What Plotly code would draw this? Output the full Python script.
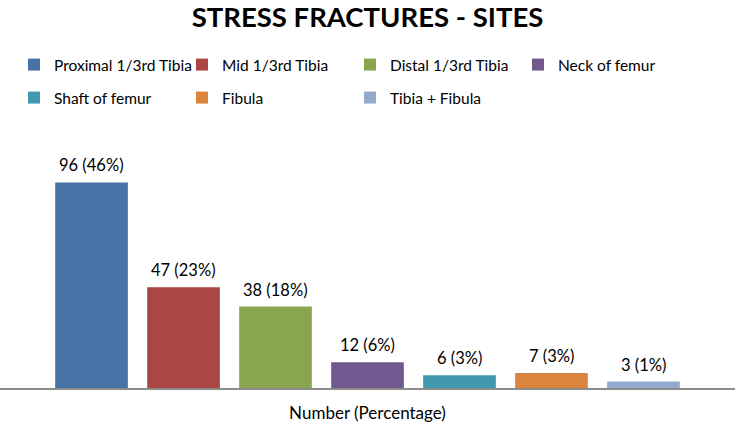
import plotly.graph_objects as go

sites = ["Proximal 1/3rd Tibia", "Mid 1/3rd Tibia", "Distal 1/3rd Tibia", "Neck of femur",
         "Shaft of femur", "Fibula", "Tibia + Fibula"]
counts = [96, 47, 38, 12, 6, 7, 3]
percents = [46, 23, 18, 6, 3, 3, 1]
colors = ["#4572A7", "#AA4643", "#89A54E", "#71588F", "#4198AF", "#DB843D", "#93A9CF"]
x_title = "Number (Percentage)"
title = "STRESS FRACTURES - SITES"

FONT = "Lato"
fig = go.Figure()
for i, (s, c, p, col) in enumerate(zip(sites, counts, percents, colors)):
    fig.add_trace(go.Bar(
        x=[i], y=[c], name=s, marker=dict(color=col, line=dict(width=0)),
        width=0.79, legend="legend" if i < 4 else "legend2",
        hoverinfo="skip",
    ))
    fig.add_annotation(x=i, y=c, text=f"{c} ({p}%)", showarrow=False,
                       xref="x", yref="y", yanchor="bottom", yshift=5,
                       font=dict(family=FONT, size=16.5, color="#000000"))

legend_common = dict(orientation="h", xanchor="left", yanchor="middle",
                     xref="container", yref="container",
                     entrywidth=123, entrywidthmode="pixels",
                     font=dict(family=FONT, size=15.5, color="#000000"),
                     bgcolor="rgba(0,0,0,0)", itemwidth=30, itemclick=False)

fig.update_layout(
    width=735, height=423,
    margin=dict(l=0, r=0, t=130.5, b=34.5, autoexpand=False),
    paper_bgcolor="white", plot_bgcolor="white",
    barmode="overlay",
    title=dict(text=f"<b>{title}</b>", x=0.5, xanchor="center", y=0.960, yanchor="middle",
               font=dict(family=FONT, size=27.5, color="#000000")),
    legend=dict(x=14 / 735, y=1 - 65 / 423, **legend_common),
    legend2=dict(x=14 / 735, y=1 - 98 / 423, **legend_common),
    xaxis=dict(range=[-0.995, 6.995], showticklabels=False, showgrid=False, zeroline=False,
               showline=True, linecolor="#8C8C8C", linewidth=2, ticks="", automargin=False,
               title=dict(text=x_title, standoff=20, font=dict(family=FONT, size=17, color="#000000"))),
    yaxis=dict(range=[0, 120], visible=False, showgrid=False, automargin=False),
    showlegend=True,
)

fig.write_html("out.html", config={"displayModeBar": False},
               post_script="document.body.style.margin='0';document.body.style.padding='0';")
